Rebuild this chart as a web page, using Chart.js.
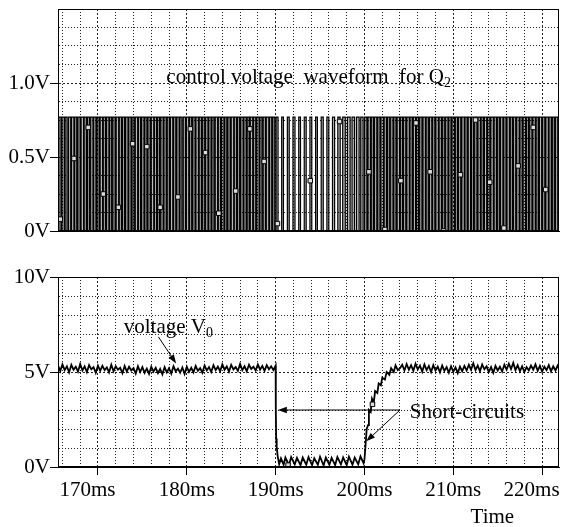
<!DOCTYPE html>
<html>
<head>
<meta charset="utf-8">
<script src="https://cdn.jsdelivr.net/npm/chart.js@4.4.1/dist/chart.umd.min.js"></script>
<style>
  html, body { margin: 0; padding: 0; background: #fff; }
  #wrap { position: relative; width: 564px; height: 527px; }
  canvas { position: absolute; left: 0; }
</style>
</head>
<body>
<div id="wrap">
  <canvas id="gateChart" width="564" height="241" style="top:0"></canvas>
  <canvas id="outChart" width="564" height="277" style="top:250px"></canvas>
</div>
<script>
const serif = "'Liberation Serif', 'Times New Roman', serif";

// time axis (ms)
const xMin = 165.5, xMax = 221.9;
const xLabels = [170, 180, 190, 200, 210, 220];
const gateLabels = [0, 0.5, 1.0];
const outLabels = [0, 5, 10];

// control voltage for Q2: pulse rise times (ms) and widths (ms)
const gateHigh = 0.77;
const gateOn = [
  165.60,165.95,166.30,166.68,167.02,167.38,167.74,168.10,168.45,168.82,
  169.18,169.52,169.90,170.25,170.60,170.97,171.32,171.68,172.05,172.40,
  172.76,173.12,173.47,173.84,174.20,174.55,174.92,175.28,175.63,176.00,
  176.35,176.72,177.08,177.43,177.80,178.15,178.52,178.88,179.23,179.60,
  179.95,180.32,180.68,181.03,181.40,181.75,182.12,182.48,182.83,183.20,
  183.55,183.92,184.28,184.63,185.00,185.35,185.72,186.08,186.43,186.80,
  187.15,187.52,187.88,188.23,188.60,188.95,189.32,189.68,
  190.05,190.68,191.32,191.95,192.60,193.22,193.86,194.50,195.13,195.77,
  196.40,197.00,197.55,198.08,198.60,199.10,199.58,
  200.02,200.40,200.77,201.13,201.50,201.86,202.22,202.58,202.95,203.31,
  203.68,204.04,204.40,204.77,205.13,205.50,205.86,206.22,206.59,206.95,
  207.32,207.68,208.04,208.41,208.77,209.14,209.50,209.86,210.23,210.59,
  210.96,211.32,211.68,212.05,212.41,212.78,213.14,213.50,213.87,214.23,
  214.60,214.96,215.32,215.69,216.05,216.42,216.78,217.14,217.51,217.87,
  218.24,218.60,218.96,219.33,219.69,220.06,220.42,220.78,221.15,221.51
];
const gateWidth = [
  .24,.26,.22,.25,.27,.23,.25,.28,.24,.22,
  .26,.25,.23,.27,.24,.26,.22,.25,.28,.24,
  .23,.26,.25,.22,.27,.24,.26,.23,.25,.28,
  .24,.22,.26,.25,.23,.27,.24,.26,.22,.25,
  .27,.23,.25,.28,.24,.22,.26,.25,.23,.27,
  .24,.26,.22,.25,.28,.24,.23,.26,.25,.22,
  .27,.24,.26,.23,.25,.28,.24,.22,
  .22,.20,.21,.23,.20,.22,.21,.20,.23,.22,
  .24,.27,.29,.31,.28,.30,.27,
  .25,.27,.23,.26,.24,.28,.25,.22,.26,.24,
  .27,.23,.25,.28,.24,.26,.22,.25,.27,.23,
  .26,.24,.28,.25,.22,.26,.24,.27,.23,.25,
  .28,.24,.26,.22,.25,.27,.23,.26,.24,.28,
  .25,.22,.26,.24,.27,.23,.25,.28,.24,.26,
  .22,.25,.27,.23,.26,.24,.28,.25,.22,.25
];
// trace markers on the control waveform
const gateMarkT = [165.75,167.3,168.9,170.6,172.3,173.9,175.5,177.0,179.0,180.4,182.1,183.6,185.5,187.1,188.7,190.2,
  193.9,197.2,200.5,202.3,204.1,205.8,207.4,208.9,210.8,212.5,214.1,215.7,217.3,219.0,220.4];
const gateMarkV = [0.08,0.49,0.70,0.25,0.16,0.59,0.57,0.16,0.23,0.69,0.53,0.12,0.27,0.69,0.47,0.05,
  0.34,0.74,0.40,0.01,0.34,0.73,0.40,0.0,0.38,0.75,0.33,0.02,0.44,0.70,0.28];

// output voltage V0 (V)
const v0Start = 165.5, v0Step = 0.25;
const v0Before = [
  5.35,5.05,5.40,5.10,5.30,4.98,5.38,5.12,5.28,5.02,
  5.42,5.08,5.30,5.00,5.36,5.14,5.26,4.96,5.34,5.06,
  5.32,5.10,5.24,4.98,5.38,5.04,5.30,5.12,5.22,4.94,
  5.32,5.02,5.28,5.08,5.20,4.92,5.30,5.00,5.26,4.96,
  5.18,4.90,5.28,5.02,5.22,4.94,5.16,4.88,5.26,4.98,
  5.20,4.92,5.30,5.04,5.18,4.96,5.24,4.90,5.28,5.00,
  5.22,4.98,5.32,5.06,5.20,4.96,5.34,5.08,5.26,5.00,
  5.36,5.10,5.28,5.04,5.40,5.12,5.30,5.02,5.38,5.14,
  5.26,5.06,5.42,5.10,5.30,5.04,5.38,5.16,5.28,5.08,
  5.40,5.12,5.32,5.06,5.36,5.14,5.30,5.10,5.34
];
const shortT = [
  190.02,190.06,190.12,190.22,190.40,190.60,190.90,191.10,191.50,191.75,
  192.15,192.40,192.80,193.05,193.45,193.70,194.10,194.35,194.75,195.00,
  195.40,195.65,196.05,196.30,196.70,196.95,197.35,197.60,198.00,198.25,
  198.65,198.90,199.30,199.55,199.90,200.00,200.10,200.25,200.40,200.50,
  200.70,200.85,201.05,201.20,201.45,201.60,201.85,202.00,202.30,202.50,
  202.80,203.00,203.30,203.50,203.75
];
const shortV = [
  3.00,1.50,1.10,0.60,0.15,0.45,0.12,0.50,0.10,0.52,
  0.14,0.48,0.10,0.50,0.12,0.52,0.10,0.46,0.12,0.54,
  0.08,0.50,0.12,0.48,0.10,0.52,0.14,0.50,0.10,0.54,
  0.12,0.50,0.14,0.56,0.20,0.40,1.00,2.00,2.20,3.00,
  2.90,3.60,3.40,4.00,3.90,4.40,4.30,4.70,4.60,5.00,
  4.85,5.20,5.00,5.35,5.10
];
const v0AfterStart = 204.0;
const v0After = [
  5.20,5.38,5.08,5.42,5.12,5.36,5.06,5.44,5.14,5.34,
  5.02,5.40,5.10,5.32,5.00,5.36,5.08,5.28,4.98,5.34,
  5.06,5.26,4.96,5.30,5.02,5.24,4.94,5.28,5.04,5.32,
  5.08,5.38,5.12,5.46,5.10,5.34,5.04,5.40,5.14,5.30,
  5.00,5.26,4.96,5.32,5.08,5.28,5.02,5.38,5.12,5.44,
  5.16,5.48,5.10,5.36,5.04,5.30,5.00,5.26,5.08,5.34,
  5.12,5.40,5.06,5.32,5.02,5.28,5.10,5.36,5.04,5.30,
  5.08,5.34,5.12
];
const outMarkT = [191.4, 200.9];
const outMarkV = [0.1, 3.3];

// build point lists
const gatePts = [{x: xMin, y: 0}];
gateOn.forEach((t, i) => {
  gatePts.push({x: t, y: gateHigh});
  gatePts.push({x: +(t + gateWidth[i]).toFixed(3), y: 0});
});
gatePts.push({x: xMax, y: 0});

const v0Pts = v0Before.map((v, i) => ({x: v0Start + i * v0Step, y: v}))
  .concat(shortT.map((t, i) => ({x: t, y: shortV[i]})))
  .concat(v0After.map((v, i) => ({x: v0AfterStart + i * v0Step, y: v})));

const gateMarks = gateMarkT.map((t, i) => ({x: t, y: gateMarkV[i]}));
const outMarks = outMarkT.map((t, i) => ({x: t, y: outMarkV[i]}));

// axes
const font = {family: serif, size: 21};
const dashFor = majors => ctx => (ctx.tick && majors.includes(ctx.tick.value)) ? [2, 2] : [1, 2];
const tickCol = labels => ctx => (ctx.tick && labels.includes(ctx.tick.value)) ? '#000' : 'rgba(0,0,0,0)';
function noPad(s) { s.paddingLeft = 0; s.paddingRight = 0; s.paddingTop = 0; s.paddingBottom = 0; }

function xScale(showLabels) {
  return {
    type: 'linear', min: xMin, max: xMax,
    afterBuildTicks: s => {
      const t = [];
      for (let v = 166; v <= 220; v += 2) t.push({value: v});
      s.ticks = t;
    },
    ticks: {
      display: showLabels, autoSkip: false, maxRotation: 0, padding: 3, color: '#000', font,
      callback: v => {
        if (!xLabels.includes(v)) return '';
        return (v === 170 || v === 220) ? v + 'ms    ' : v + 'ms';
      }
    },
    grid: {color: '#222', lineWidth: 1, drawTicks: showLabels, tickLength: 8, tickWidth: 1, tickColor: tickCol(xLabels)},
    border: {display: true, color: '#000', width: 1, dash: dashFor(xLabels)},
    afterFit: s => { s.height = showLabels ? 60 : 10; noPad(s); }
  };
}

function yScale(max, step, labels, fmt) {
  return {
    min: 0, max,
    afterBuildTicks: s => {
      const t = [];
      for (let i = 0; i * step <= max + 1e-9; i++) t.push({value: +(i * step).toFixed(3)});
      s.ticks = t;
    },
    ticks: {autoSkip: false, padding: 0, color: '#000', font,
      callback: v => labels.includes(v) ? fmt(v) : ''},
    grid: {color: '#222', lineWidth: 1, tickLength: 8, tickWidth: 1, tickColor: tickCol(labels)},
    border: {display: true, color: '#000', width: 1, dash: dashFor(labels)},
    afterFit: s => { s.width = 58; noPad(s); }
  };
}

// frame, arrows, texts
function arrow(ctx, x1, y1, x2, y2) {
  const a = Math.atan2(y2 - y1, x2 - x1), L = 9, W = 3.2;
  const bx = x2 - L * Math.cos(a), by = y2 - L * Math.sin(a);
  ctx.beginPath(); ctx.moveTo(x1, y1); ctx.lineTo(bx, by); ctx.stroke();
  ctx.beginPath(); ctx.moveTo(x2, y2);
  ctx.lineTo(bx + W * Math.sin(a), by - W * Math.cos(a));
  ctx.lineTo(bx - W * Math.sin(a), by + W * Math.cos(a));
  ctx.closePath(); ctx.fill();
}
function text(ctx, main, sub, x, y) {
  ctx.font = '21px ' + serif;
  ctx.textAlign = 'left';
  ctx.textBaseline = 'alphabetic';
  ctx.fillText(main, x, y);
  if (sub) {
    const w = ctx.measureText(main).width;
    ctx.font = '14px ' + serif;
    ctx.fillText(sub, x + w, y + 4);
  }
}

const framePlugin = {
  id: 'frame',
  afterDraw(chart) {
    const {ctx, chartArea: a} = chart;
    ctx.save();
    ctx.strokeStyle = '#000';
    ctx.lineWidth = 1;
    ctx.strokeRect(Math.round(a.left) + 0.5, Math.round(a.top) + 0.5,
      Math.round(a.right - a.left) - 1, Math.round(a.bottom - a.top) - 1);
    ctx.restore();
  }
};

const gateNotes = {
  id: 'gateNotes',
  afterDraw(chart) {
    const {ctx} = chart, x = chart.scales.x, y = chart.scales.y;
    ctx.save();
    ctx.fillStyle = '#000';
    text(ctx, 'control voltage  waveform  for Q', '2', x.getPixelForValue(177.7), y.getPixelForValue(1.0));
    ctx.restore();
  }
};

const outNotes = {
  id: 'outNotes',
  afterDraw(chart) {
    const {ctx} = chart, x = chart.scales.x, y = chart.scales.y;
    const px = v => x.getPixelForValue(v), py = v => y.getPixelForValue(v);
    ctx.save();
    ctx.fillStyle = '#000';
    ctx.strokeStyle = '#000';
    ctx.lineWidth = 1;
    text(ctx, 'voltage V', '0', px(172.9), py(7.05));
    arrow(ctx, px(176.8), py(6.85), px(178.8), py(5.45));
    text(ctx, 'Short-circuits', '', px(205.1), py(2.58));
    arrow(ctx, px(204.0), py(3.0), px(190.25), py(3.0));
    arrow(ctx, px(204.0), py(3.0), px(200.2), py(1.35));
    ctx.font = '21px ' + serif;
    ctx.textAlign = 'center';
    ctx.textBaseline = 'middle';
    ctx.fillText('Time', px(214.4), chart.chartArea.bottom + 50);
    ctx.restore();
  }
};

const common = {
  responsive: false,
  animation: false,
  devicePixelRatio: 1,
  plugins: {legend: {display: false}, tooltip: {enabled: false}}
};

new Chart(document.getElementById('gateChart'), {
  type: 'line',
  data: {
    datasets: [
      {data: gateMarks, showLine: false, pointStyle: 'rect', pointRadius: 3.2,
        pointBackgroundColor: '#ddd', pointBorderColor: '#000', pointBorderWidth: 1},
      {data: gatePts, stepped: true, borderColor: '#000', borderWidth: 1.2,
        fill: 'origin', backgroundColor: 'rgba(0,0,0,0.28)', pointRadius: 0}
    ]
  },
  options: Object.assign({}, common, {
    layout: {padding: {top: 9, right: 2, left: 0, bottom: 0}},
    scales: {
      x: xScale(false),
      y: yScale(1.5, 0.125, gateLabels, v => v === 0 ? '0V' : v.toFixed(1) + 'V')
    }
  }),
  plugins: [framePlugin, gateNotes]
});

new Chart(document.getElementById('outChart'), {
  type: 'line',
  data: {
    datasets: [
      {data: outMarks, showLine: false, pointStyle: 'rect', pointRadius: 3.2,
        pointBackgroundColor: '#ddd', pointBorderColor: '#000', pointBorderWidth: 1},
      {data: v0Pts, borderColor: '#000', borderWidth: 1.8, pointRadius: 0, fill: false}
    ]
  },
  options: Object.assign({}, common, {
    layout: {padding: {top: 27, right: 2, left: 0, bottom: 0}},
    scales: {
      x: xScale(true),
      y: yScale(10, 1, outLabels, v => v + 'V')
    }
  }),
  plugins: [framePlugin, outNotes]
});
</script>
</body>
</html>
